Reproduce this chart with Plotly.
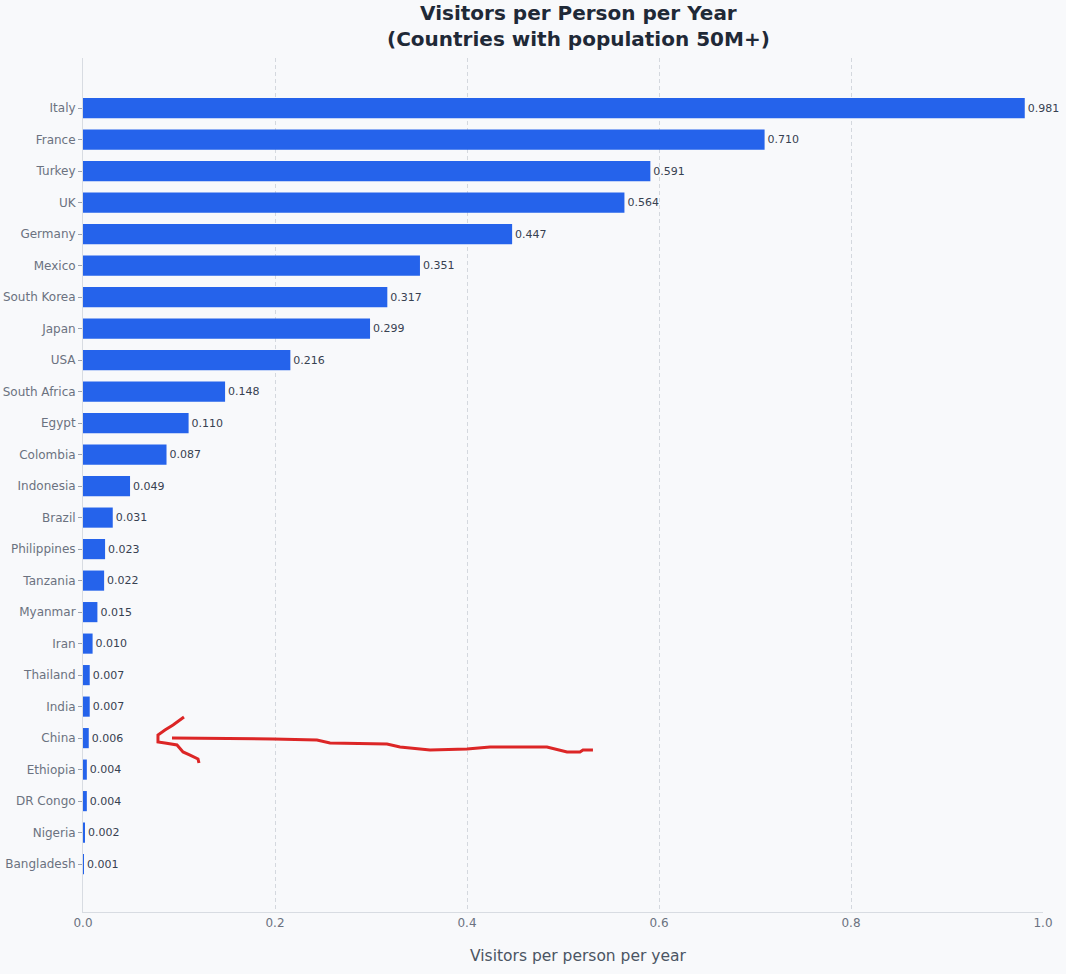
import plotly.graph_objects as go

countries = ["Italy", "France", "Turkey", "UK", "Germany", "Mexico", "South Korea",
             "Japan", "USA", "South Africa", "Egypt", "Colombia", "Indonesia", "Brazil",
             "Philippines", "Tanzania", "Myanmar", "Iran", "Thailand", "India", "China",
             "Ethiopia", "DR Congo", "Nigeria", "Bangladesh"]
visitors_per_person = [0.981, 0.710, 0.591, 0.564, 0.447, 0.351, 0.317, 0.299, 0.216,
                       0.148, 0.110, 0.087, 0.049, 0.031, 0.023, 0.022, 0.015, 0.010,
                       0.007, 0.007, 0.006, 0.004, 0.004, 0.002, 0.001]
x_ticks = [0.0, 0.2, 0.4, 0.6, 0.8, 1.0]
title_lines = ["Visitors per Person per Year", "(Countries with population 50M+)"]

# hand drawn red arrow pointing at China (screen pixels of the original)
arrow_shaft = [(172, 738), (273, 739), (317, 740), (330, 743), (387, 744), (400, 747),
               (430, 750), (467, 749), (490, 747), (547, 747), (567, 752), (580, 752),
               (583, 750), (593, 750)]
arrow_head = [(184, 717), (173, 725), (165, 730), (158, 735), (158, 742), (165, 743),
              (177, 745), (183, 752), (190, 755), (198, 759), (199, 763)]

W, H = 1066, 974
L, R, T, B = 83, 23, 58, 62
PW, PH = W - L - R, H - T - B


def px_x(px):
    return (px - L) / PW


def px_y(py):
    return (H - B - py) / PH


def to_path(pts):
    return " ".join(("M" if i == 0 else "L") + f"{px_x(a):.4f},{px_y(b):.4f}"
                    for i, (a, b) in enumerate(pts))


font = "DejaVu Sans"

fig = go.Figure()
fig.add_trace(go.Bar(
    x=visitors_per_person,
    y=countries,
    orientation="h",
    marker=dict(color="#2563eb", line=dict(width=0)),
    width=0.64,
    text=[f"{v:.3f}" for v in visitors_per_person],
    textposition="outside",
    textfont=dict(size=11, color="#374151", family=font),
    cliponaxis=False,
))

for path in (arrow_shaft, arrow_head):
    fig.add_shape(type="path", xref="paper", yref="paper", path=to_path(path),
                  line=dict(color="#dc2626", width=3))

fig.update_layout(
    width=W, height=H,
    margin=dict(l=L, r=R, t=T, b=B),
    paper_bgcolor="#f8f9fb",
    plot_bgcolor="#f8f9fb",
    font=dict(family=font, color="#6b7280", size=12),
    showlegend=False,
)

fig.update_xaxes(
    range=[0, 1.0],
    tickvals=x_ticks,
    ticktext=[f"{t:.1f}" for t in x_ticks],
    showgrid=True, gridcolor="#d4d8de", griddash="4px,3px", gridwidth=1,
    zeroline=False,
    showline=True, linecolor="#d8dce2", linewidth=1,
    tickfont=dict(size=12, color="#6b7280"),
    ticks="",
    automargin=False,
)
fig.update_yaxes(
    categoryorder="array", categoryarray=countries,
    range=[25.52, -1.59],
    showgrid=False, zeroline=False,
    showline=True, linecolor="#d8dce2", linewidth=1,
    ticks="outside", ticklen=4, tickcolor="#9ca3af",
    tickfont=dict(size=12, color="#6b7280"),
    automargin=False,
)

# chart title (two lines, one text block)
fig.add_annotation(
    text="<b>" + "<br>".join(title_lines) + "</b>", xref="paper", yref="paper",
    x=px_x(578), y=px_y(26), xanchor="center", yanchor="middle",
    showarrow=False, font=dict(size=20, color="#1f2937", family=font),
)

fig.add_annotation(
    text="Visitors per person per year", xref="paper", yref="paper",
    x=px_x(578), y=px_y(956), xanchor="center", yanchor="middle", showarrow=False,
    font=dict(size=15.5, color="#4b5563", family=font),
)

fig.write_html("out.html",
               config={"displayModeBar": False},
               post_script="document.body.style.margin='0';"
                           "document.body.style.overflow='hidden';")
